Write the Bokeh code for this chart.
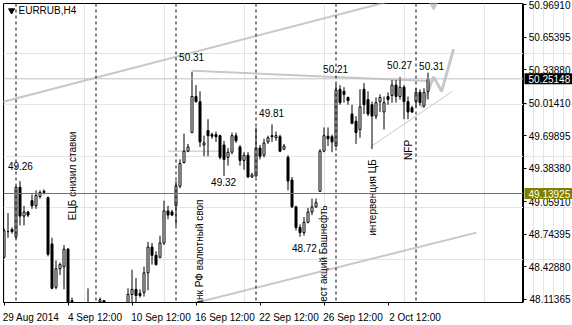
from math import pi
from bokeh.plotting import figure
from bokeh.layouts import row
from bokeh.models import Range1d, LinearAxis, FixedTicker, Span, Label, NumeralTickFormatter
from bokeh.core.properties import value
from bokeh.embed import file_html
from bokeh.resources import INLINE

FONT = "Liberation Sans"

symbol = "EURRUB,H4"

opens = [48.52, 48.77, 48.79, 48.72, 49.20, 48.92, 48.96, 49.07, 49.02, 49.11,
         49.16, 49.10, 48.65, 48.23, 48.41, 48.43, 48.60, 48.10, 47.99, 47.96,
         48.01, 48.03, 47.99, 47.96, 48.09, 48.10, 48.01, 47.96, 48.00, 47.94,
         47.98, 48.03, 48.16, 48.21, 48.17, 48.18, 48.37, 48.62, 48.54, 48.52,
         48.66, 48.97, 48.96, 49.02, 49.21, 49.44, 49.55, 49.73, 50.08, 50.03,
         49.61, 49.75, 49.71, 49.71, 49.70, 49.61, 49.49, 49.54, 49.70, 49.59,
         49.46, 49.51, 49.30, 49.31, 49.58, 49.51, 49.64, 49.70, 49.68, 49.69,
         49.57, 49.49, 49.27, 49.01, 48.81, 48.76, 48.86, 48.96, 49.01, 49.16,
         49.55, 49.695, 49.69, 49.60, 50.15, 50.13, 50.07, 49.91, 49.84, 49.76,
         50.15, 50.05, 50.00, 49.89, 50.03, 49.93, 50.08, 50.09, 50.19, 50.08,
         50.17, 50.03, 49.97, 50.03, 50.12, 49.99, 50.13]
highs = [48.80, 48.95, 48.81, 49.21, 49.26, 49.02, 48.97, 49.13, 49.17, 49.17,
         49.18, 49.11, 48.71, 48.49, 48.47, 48.64, 48.61, 48.13, 48.03, 48.05,
         48.04, 48.22, 48.02, 48.05, 48.13, 48.10, 48.05, 48.01, 48.04, 48.00,
         48.03, 48.22, 48.40, 48.32, 48.21, 48.43, 48.67, 48.66, 48.58, 48.73,
         49.07, 49.02, 48.98, 49.26, 49.47, 49.72, 49.62, 50.32, 50.19, 50.13,
         49.70, 49.86, 49.73, 49.74, 49.71, 49.65, 49.58, 49.73, 49.73, 49.61,
         49.54, 49.54, 49.34, 49.78, 49.61, 49.67, 49.70, 49.81, 49.74, 49.71,
         49.62, 49.51, 49.30, 49.02, 48.84, 48.91, 49.00, 49.09, 49.09, 49.57,
         49.78, 49.78, 49.71, 50.20, 50.19, 50.17, 50.08, 50.00, 49.89, 50.15,
         50.21, 50.13, 50.03, 50.07, 50.10, 50.08, 50.12, 50.24, 50.24, 50.27,
         50.19, 50.08, 49.99, 50.16, 50.15, 50.16, 50.31]
lows = [48.51, 48.71, 48.75, 48.70, 48.83, 48.83, 48.91, 48.99, 48.99, 49.09,
        49.13, 48.53, 48.21, 48.21, 48.35, 48.21, 47.94, 48.03, 47.89, 47.92,
        47.92, 47.94, 47.90, 47.92, 48.07, 48.03, 47.92, 47.89, 47.90, 47.88,
        47.94, 48.01, 48.03, 48.03, 48.13, 48.14, 48.20, 48.45, 48.44, 48.51,
        48.64, 48.89, 48.92, 48.83, 49.19, 49.43, 49.54, 49.73, 50.02, 49.59,
        49.50, 49.50, 49.67, 49.64, 49.47, 49.31, 49.41, 49.52, 49.63, 49.41,
        49.37, 49.29, 49.29, 49.30, 49.47, 49.49, 49.62, 49.64, 49.65, 49.54,
        49.56, 49.17, 49.00, 48.78, 48.72, 48.73, 48.85, 48.93, 49.00, 49.16,
        49.54, 49.60, 49.54, 49.59, 50.00, 50.02, 50.00, 49.81, 49.62, 49.68,
        49.91, 49.89, 49.57, 49.86, 49.93, 49.76, 50.00, 50.02, 50.02, 50.05,
        49.86, 49.86, 49.92, 49.98, 49.99, 49.97, 50.05]
closes = [48.78, 48.77, 48.77, 49.20, 48.92, 48.96, 48.93, 49.02, 49.12, 49.15,
          49.15, 48.55, 48.22, 48.41, 48.45, 48.60, 47.99, 48.09, 47.96, 48.01,
          47.98, 47.99, 47.96, 48.04, 48.11, 48.08, 47.96, 48.00, 47.94, 47.98,
          48.01, 48.16, 48.21, 48.15, 48.15, 48.37, 48.62, 48.54, 48.45, 48.66,
          48.97, 48.93, 48.93, 49.21, 49.43, 49.55, 49.59, 50.08, 50.03, 49.64,
          49.63, 49.70, 49.695, 49.69, 49.49, 49.47, 49.54, 49.70, 49.65, 49.46,
          49.51, 49.30, 49.32, 49.58, 49.50, 49.63, 49.68, 49.69, 49.70, 49.55,
          49.60, 49.26, 49.01, 48.81, 48.76, 48.86, 48.96, 49.01, 49.05, 49.55,
          49.70, 49.67, 49.64, 50.14, 50.02, 50.10, 50.04, 49.82, 49.73, 49.98,
          50.00, 49.91, 49.89, 50.02, 50.07, 50.02, 50.05, 50.19, 50.08, 50.17,
          50.03, 49.93, 49.93, 50.12, 50.02, 50.12, 50.2515]

price_ticks = [50.96910, 50.65395, 50.33880, 50.01410, 49.69895,
               49.38380, 49.05910, 48.74395, 48.42880, 48.11365]
bid_price = 50.25148
level_price = 49.13925

tick_idx = [0, 16, 32, 48, 64, 80, 96]
tick_labels = ["29 Aug 2014", "4 Sep 12:00", "10 Sep 12:00", "16 Sep 12:00",
               "22 Sep 12:00", "26 Sep 12:00", "2 Oct 12:00"]

sep_idx = [3, 23, 43, 63, 83, 103]

# drawn objects (bar index, price)
upper_channel_x = [-2, 110]
upper_channel_y = [50.01, 51.14]
lower_channel_x = [47, 118.1]
lower_channel_y = [48.07, 48.76]
tri_top_x = [47.1, 106.1]
tri_top_y = [50.33, 50.23]
tri_bot_x = [91.6, 112.1]
tri_bot_y = [49.59, 50.13]
proj_x = [104.4, 107.4, 109.4, 112.4]
proj_y = [49.97, 50.27, 50.13, 50.54]
level_x = [40.9, 53.9]
level_y = [49.55, 49.55]

# text objects
ev_idx = [17.1, 48.9, 79.9, 92.1, 101.2]
ev_price = [48.88, 47.99, 47.97, 48.73, 49.465]
ev_text = ["ЕЦБ снизил ставки", "Банк РФ валютный своп", "Арест акций Башнефть",
           "интервенция ЦБ", "NFP"]

pl_idx = [4.1, 46.9, 66.9, 54.9, 75.1, 82.9, 98.9, 106.9]
pl_price = [49.407, 50.463, 49.916, 49.254, 48.610, 50.348, 50.386, 50.377]
pl_text = ["49.26", "50.31", "49.81", "49.32", "48.72", "50.21", "50.27", "50.31"]

n = len(opens)
idx = list(range(n))
body_top = [max(o, c) for o, c in zip(opens, closes)]
body_bot = [min(o, c) for o, c in zip(opens, closes)]
fills = ["white" if c >= o else "black" for o, c in zip(opens, closes)]

y_range = Range1d(48.0824, 50.9816)

p = figure(width=523, height=325, output_backend="svg", toolbar_location=None,
           x_range=Range1d(-0.125, 129.875), y_range=y_range,
           min_border_left=3, min_border_top=3, min_border_right=0, min_border_bottom=20,
           x_axis_location=None, y_axis_location=None)
p.outline_line_color = "black"
p.background_fill_color = "white"
p.border_fill_color = "white"

label_pos = [t + round(len(l) * 0.61 * 4) / 4 for t, l in zip(tick_idx, tick_labels)]
xax = LinearAxis(ticker=FixedTicker(ticks=label_pos, minor_ticks=tick_idx),
                 major_label_overrides=dict(zip(label_pos, tick_labels)),
                 major_tick_line_color=None, minor_tick_out=3, minor_tick_in=0,
                 minor_tick_line_color="black", axis_line_color="black",
                 major_label_text_font=FONT, major_label_text_font_size="10px",
                 major_label_standoff=3, major_label_text_color="black")
p.add_layout(xax, "below")

# drawn objects
p.line(upper_channel_x, upper_channel_y, line_color="#c8c8c8", line_width=2)
p.line(lower_channel_x, lower_channel_y, line_color="#c8c8c8", line_width=2)
p.line(tri_top_x, tri_top_y, line_color="#c8c8c8", line_width=2)
p.line(tri_bot_x, tri_bot_y, line_color="#c8c8c8", line_width=1)
p.line(level_x, level_y, line_color="#c0c0c0", line_width=1)
p.line(proj_x, proj_y, line_color="#c8c8c8", line_width=3)
p.scatter([107.4], [50.975], marker="inverted_triangle", size=10, color="#c8c8c8")

p.add_layout(Span(location=bid_price, dimension="width", line_color="#c0c0c0", line_width=1))
p.add_layout(Span(location=level_price, dimension="width", line_color="#808000", line_width=1))

# candles
p.segment(x0=idx, y0=lows, x1=idx, y1=highs, line_color="black", line_width=1)
p.vbar(x=idx, width=0.5, top=body_top, bottom=body_bot, fill_color=fills,
       line_color="black", line_width=1)

for s in sep_idx:
    p.add_layout(Span(location=s, dimension="height", line_color="black",
                      line_width=1, line_dash="3 3"))

p.text(x=ev_idx, y=ev_price, text=ev_text, angle=pi / 2, text_align="left",
       text_baseline="middle", text_font=value(FONT), text_font_size="10px",
       text_color="black")
p.text(x=pl_idx, y=pl_price, text=pl_text, text_align="center",
       text_baseline="middle", text_font=value(FONT), text_font_size="10px",
       text_color="black")

p.add_layout(Label(x=3.625, y=50.91, text=symbol, text_align="left", text_baseline="middle",
                   text_font=FONT, text_font_size="10px", text_color="black"))
p.scatter([1.9], [50.913], marker="inverted_triangle", size=6, color="black")

# price scale column (real axis, labels placed over the strip)
side = figure(width=49, height=325, output_backend="svg", toolbar_location=None,
              x_range=Range1d(0, 49), y_range=y_range,
              min_border_left=0, min_border_top=3, min_border_right=0, min_border_bottom=20,
              x_axis_location=None, y_axis_location=None)
side.outline_line_color = None
side.background_fill_color = "white"
side.border_fill_color = "white"
yax = LinearAxis(ticker=FixedTicker(ticks=price_ticks),
                 formatter=NumeralTickFormatter(format="0.00000"),
                 major_tick_out=0, major_tick_in=3, minor_tick_line_color=None,
                 axis_line_color="black", major_tick_line_color="black",
                 major_label_text_font=FONT, major_label_text_font_size="10px",
                 major_label_standoff=-47, major_label_text_color="black")
side.add_layout(yax, "left")

box_prices = [bid_price, level_price]
box_colors = ["black", "#808000"]
box_texts = [f"{v:.5f}" for v in box_prices]
side.rect(x=[25, 25], y=box_prices, width=48, height=11, width_units="screen",
          height_units="screen", fill_color=box_colors, line_color=None, level="overlay")
side.text(x=[5, 5], y=box_prices, text=box_texts, text_align="left", text_baseline="middle",
          text_font=value(FONT), text_font_size="10px", text_color="white", level="overlay")

layout = row(p, side, spacing=0)
open("out.html", "w").write(file_html(layout, INLINE))
